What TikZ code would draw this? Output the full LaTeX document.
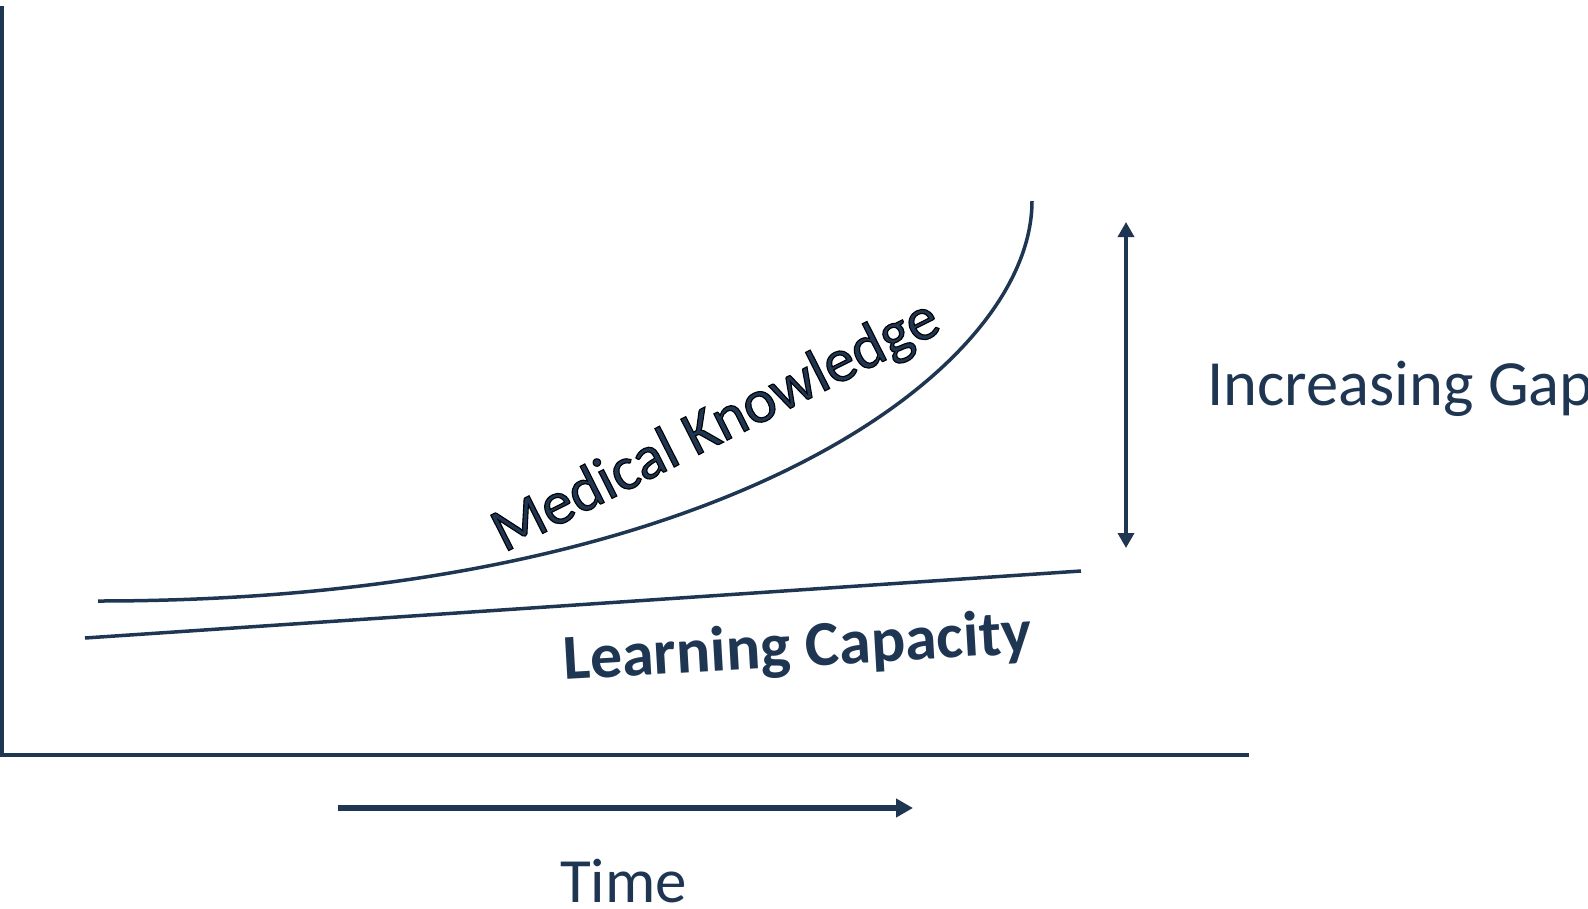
\documentclass[tikz,border=0pt]{standalone}
\usepackage{fontspec}
\setmainfont{Carlito}
\newfontfamily\mkfont[FakeBold=1.8]{Carlito}
\usetikzlibrary{arrows.meta}
\definecolor{navy}{RGB}{31,54,83}
\tikzset{
  axisline/.style={draw=navy, line width=4.5pt},
  curveline/.style={draw=navy, line width=3.5pt},
  gaparrow/.style={draw=navy, line width=3.5pt, {Triangle[width=16pt,length=15pt]}-{Triangle[width=16pt,length=15pt]}},
  timearrow/.style={draw=navy, line width=6pt, -{Triangle[width=18pt,length=17pt]}},
  bigtext/.style={text=navy, inner sep=0pt, font=\fontsize{63}{75}\selectfont},
}
\begin{document}
\begin{tikzpicture}[x=1pt,y=-1pt]
\useasboundingbox (0,0) rectangle (1588,908);
% axes
\coordinate (ytop) at (2,6);
\coordinate (origin) at (2,755);
\coordinate (xend) at (1249,755);
\draw[axisline] (ytop) -- (origin) -- (xend);
% medical knowledge curve
\coordinate (mk0) at (98,601);
\coordinate (mk1) at (1032,201);
\draw[curveline] (mk0) .. controls (720,601) and (1032,370) .. (mk1);
% learning capacity line
\coordinate (lc0) at (85,638);
\coordinate (lc1) at (1081,571);
\draw[curveline] (lc0) -- (lc1);
% gap arrow
\coordinate (gtop) at (1126,222);
\coordinate (gbot) at (1126,548);
\draw[gaparrow] (gbot) -- (gtop);
% time arrow
\coordinate (t0) at (338,808);
\coordinate (t1) at (913,808);
\draw[timearrow] (t0) -- (t1);
% labels
\node[bigtext, anchor=base west, font=\fontsize{64.5}{77}\selectfont] (gap) at (1207,405) {Increasing Gap};
\node[bigtext, anchor=base west] (time) at (560,902) {Time};
\node[bigtext, anchor=base west, rotate=26.8, font=\fontsize{62}{74}\mkfont] (mk) at (504,553) {\special{pdf:literal 0 0 0 RG}Medical Knowledge};
\node[bigtext, anchor=base west, rotate=3.3, font=\fontsize{64}{76}\selectfont\bfseries] (lc) at (564,680) {Learning Capacity};
\end{tikzpicture}
\end{document}
